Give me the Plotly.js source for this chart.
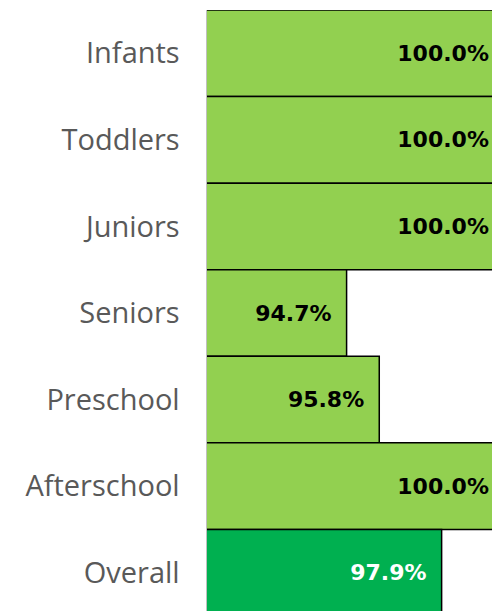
<!DOCTYPE html>
<html>
<head>
<meta charset="utf-8">
<script src="https://cdn.plot.ly/plotly-3.0.1.min.js"></script>
<style>html,body{margin:0;padding:0;background:#fff;overflow:hidden;}#chart{width:504px;height:616px;}</style>
</head>
<body>
<div id="chart"></div>
<script>
const categories = ["Infants", "Toddlers", "Juniors", "Seniors", "Preschool", "Afterschool", "Overall"];
const values = [100.0, 100.0, 100.0, 94.7, 95.8, 100.0, 97.9];
const barColors = ["#92D050", "#92D050", "#92D050", "#92D050", "#92D050", "#92D050", "#00B050"];
const textColors = ["#000000", "#000000", "#000000", "#000000", "#000000", "#000000", "#FFFFFF"];

const trace = {
  type: "bar",
  orientation: "h",
  y: categories,
  x: values,
  marker: {color: barColors, line: {color: "#000000", width: 1.5}},
  texttemplate: "%{x:.1f}%\u00a0\u2009",
  textposition: "inside",
  insidetextanchor: "end",
  textangle: 0,
  constraintext: "none",
  textfont: {family: "DejaVu Sans", size: 22, weight: "bold", color: textColors},
  hoverinfo: "none"
};

const layout = {
  width: 504, height: 616,
  margin: {l: 207, r: 0, t: 10, b: 0, pad: 0},
  paper_bgcolor: "#FFFFFF", plot_bgcolor: "#FFFFFF",
  bargap: 0,
  showlegend: false,
  xaxis: {range: [90, 100], showticklabels: false, showgrid: false, zeroline: false, showline: false, ticks: ""},
  yaxis: {type: "category", autorange: "reversed", showgrid: false, zeroline: false,
          showline: true, linecolor: "#BFBFBF", linewidth: 1.5, ticks: "",
          ticklabelstandoff: 20,
          tickfont: {family: "Open Sans", size: 29, color: "#595959"}}
};

Plotly.newPlot("chart", [trace], layout, {displayModeBar: false, staticPlot: true});
</script>
</body>
</html>
